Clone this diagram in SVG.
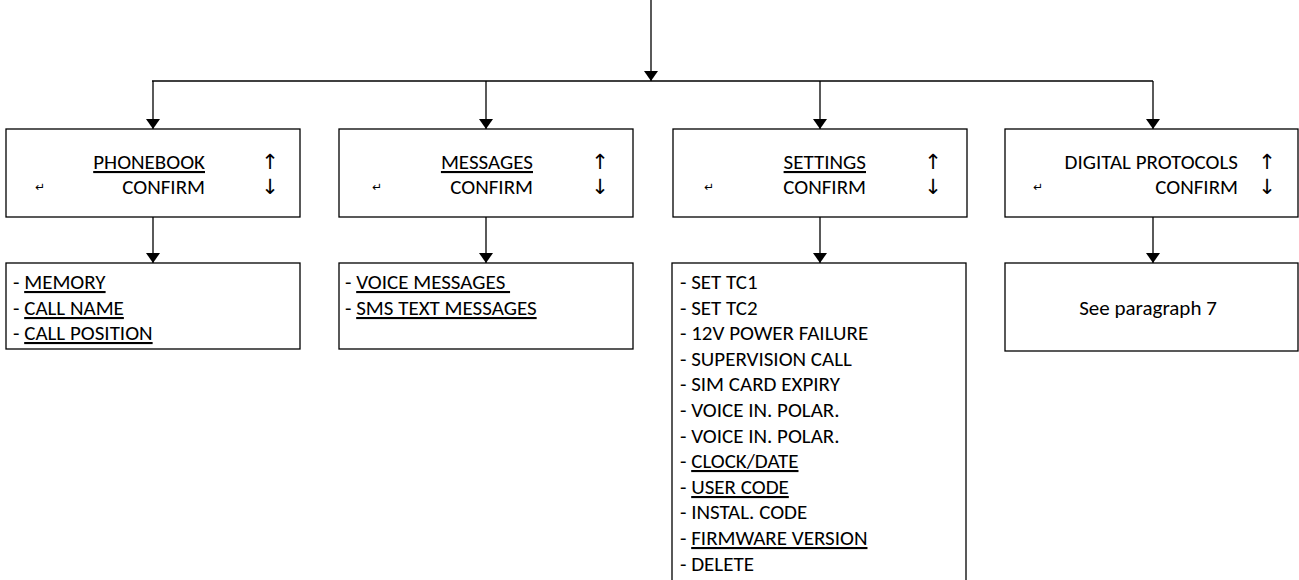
<svg xmlns="http://www.w3.org/2000/svg" width="1299" height="580" viewBox="0 0 1299 580">
<defs>
<marker id="ah" viewBox="0 0 10 14" refX="10" refY="7" markerWidth="10" markerHeight="14" markerUnits="userSpaceOnUse" orient="auto">
<path d="M0,0 L10,7 L0,14 Z" fill="#000"/>
</marker>
<style>
.box{fill:#fff;stroke:#000;stroke-width:1.3}
.ln{fill:none;stroke:#000;stroke-width:1.3}
.ar{fill:none;stroke:#000;stroke-width:1.3;marker-end:url(#ah)}
text{font-family:Carlito,Lato,"Liberation Sans",sans-serif;font-size:21px;fill:#000}
.r{text-anchor:end}
.c{text-anchor:middle}
.u{text-decoration:underline}
.sym{font-family:"DejaVu Sans",sans-serif;font-size:21px;text-anchor:middle}
.ent{font-family:"DejaVu Sans",sans-serif;font-size:12px;text-anchor:middle}
</style>
</defs>
<g id="connectors">
<path class="ar" d="M651,0 V81"/>
<path class="ln" d="M152,81 H1153"/>
<path class="ar" d="M153,81 V129"/>
<path class="ar" d="M486,81 V129"/>
<path class="ar" d="M820,81 V129"/>
<path class="ar" d="M1153,81 V129"/>
<path class="ar" d="M153,217 V263"/>
<path class="ar" d="M486,217 V263"/>
<path class="ar" d="M820,217 V263"/>
<path class="ar" d="M1153,217 V263"/>
</g>
<g id="phonebook">
<rect class="box" x="6" y="129" width="294" height="88"/>
<text class="r u" x="205" y="169">PHONEBOOK</text>
<text class="r" x="205" y="194">CONFIRM</text>
<text class="sym" x="270" y="169">↑</text>
<text class="sym" x="270" y="194">↓</text>
<text class="ent" x="40" y="191">↵</text>
</g>
<g id="messages">
<rect class="box" x="339" y="129" width="294" height="88"/>
<text class="r u" x="533" y="169">MESSAGES</text>
<text class="r" x="533" y="194">CONFIRM</text>
<text class="sym" x="600" y="169">↑</text>
<text class="sym" x="600" y="194">↓</text>
<text class="ent" x="377" y="191">↵</text>
</g>
<g id="settings">
<rect class="box" x="673" y="129" width="294" height="88"/>
<text class="r u" x="866" y="169">SETTINGS</text>
<text class="r" x="866" y="194">CONFIRM</text>
<text class="sym" x="933" y="169">↑</text>
<text class="sym" x="933" y="194">↓</text>
<text class="ent" x="709" y="191">↵</text>
</g>
<g id="digital-protocols">
<rect class="box" x="1005" y="129" width="293" height="88"/>
<text class="r" x="1238" y="169">DIGITAL PROTOCOLS</text>
<text class="r" x="1238" y="194">CONFIRM</text>
<text class="sym" x="1267" y="169">↑</text>
<text class="sym" x="1267" y="194">↓</text>
<text class="ent" x="1038" y="191">↵</text>
</g>
<g id="phonebook-items">
<rect class="box" x="6" y="263" width="294" height="86"/>
<text x="13" y="289">- <tspan class="u">MEMORY</tspan></text>
<text x="13" y="315">- <tspan class="u">CALL NAME</tspan></text>
<text x="13" y="340">- <tspan class="u">CALL POSITION</tspan></text>
</g>
<g id="messages-items">
<rect class="box" x="339" y="263" width="294" height="86"/>
<text x="345" y="289" xml:space="preserve">- <tspan class="u">VOICE MESSAGES </tspan></text>
<text x="345" y="315">- <tspan class="u">SMS TEXT MESSAGES</tspan></text>
</g>
<g id="settings-items">
<rect class="box" x="672" y="263" width="294" height="330"/>
<text x="680" y="289">- SET TC1</text>
<text x="680" y="315">- SET TC2</text>
<text x="680" y="340">- 12V POWER FAILURE</text>
<text x="680" y="366">- SUPERVISION CALL</text>
<text x="680" y="391">- SIM CARD EXPIRY</text>
<text x="680" y="417">- VOICE IN. POLAR.</text>
<text x="680" y="443">- VOICE IN. POLAR.</text>
<text x="680" y="468">- <tspan class="u">CLOCK/DATE</tspan></text>
<text x="680" y="494">- <tspan class="u">USER CODE</tspan></text>
<text x="680" y="519">- INSTAL. CODE</text>
<text x="680" y="545">- <tspan class="u">FIRMWARE VERSION</tspan></text>
<text x="680" y="571">- DELETE</text>
</g>
<g id="digital-protocols-items">
<rect class="box" x="1005" y="263" width="293" height="88"/>
<text class="c" x="1148" y="315">See paragraph 7</text>
</g>
</svg>
